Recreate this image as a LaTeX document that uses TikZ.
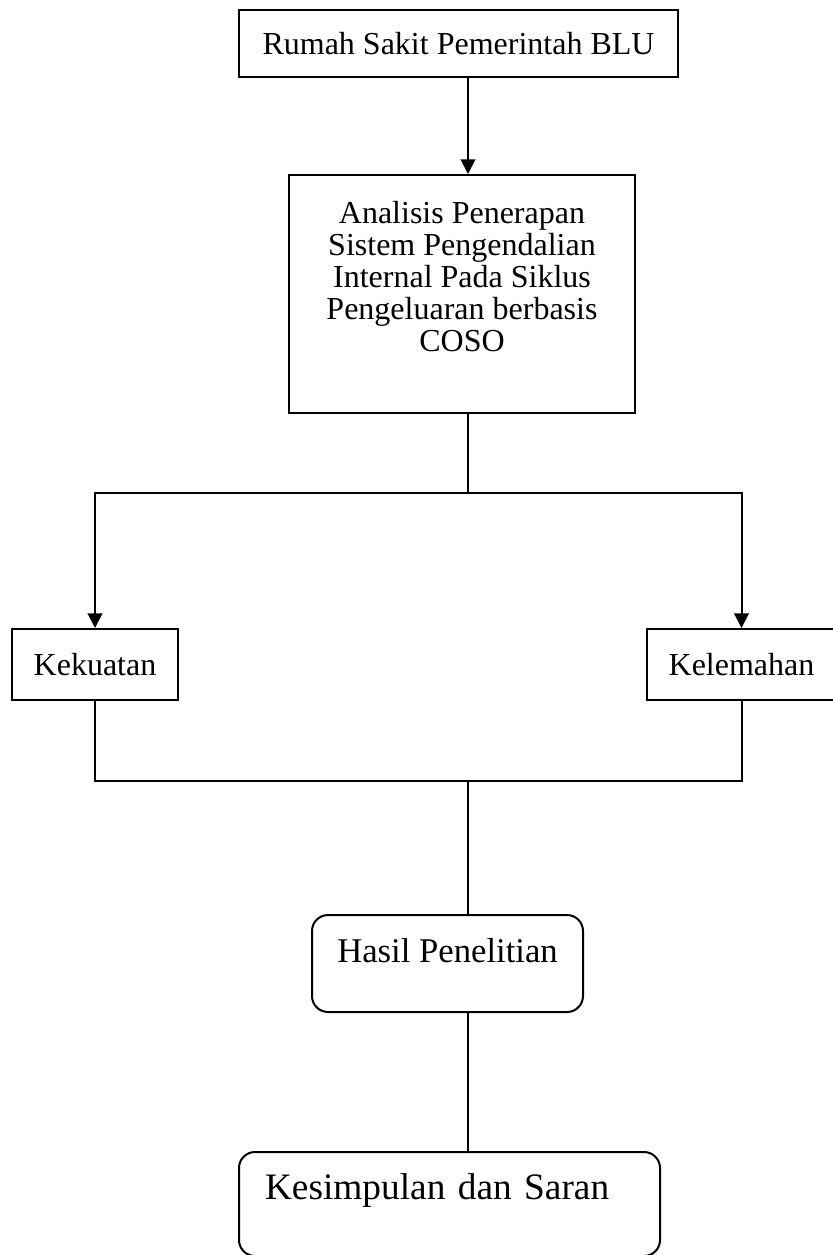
\documentclass[tikz,border=0pt]{standalone}
\usepackage{fontspec}
\setmainfont{Liberation Serif}
\usetikzlibrary{arrows.meta}

\begin{document}
\begin{tikzpicture}[x=0.375pt, y=-0.375pt, line width=0.75pt,
    box/.style={draw, rectangle, inner sep=0pt, font=\fontsize{12}{12}\selectfont},
    rbox/.style={box, rounded corners=6pt},
    arr/.style={-{Triangle[width=5.5pt,length=5.5pt]}}]
    \useasboundingbox (0,0) rectangle (833,1255);

    \node[box, minimum width=439*0.375pt, minimum height=67*0.375pt] (rs) at (458.5,43.5) {Rumah Sakit Pemerintah BLU};
    \node[box, align=center, text depth=13.5pt, minimum width=346*0.375pt, minimum height=238*0.375pt] (anl) at (462,294)
        {Analisis Penerapan\\Sistem Pengendalian\\Internal Pada Siklus\\Pengeluaran berbasis\\COSO};
    \node[box, minimum width=166*0.375pt, minimum height=71*0.375pt] (kuat) at (95,664.5) {Kekuatan};
    \node[box, minimum width=189*0.375pt, minimum height=71*0.375pt] (lemah) at (741.5,664.5) {Kelemahan};
    \node[rbox, font=\fontsize{13}{13}\selectfont, text depth=10pt, minimum width=271*0.375pt, minimum height=97*0.375pt] (hasil) at (447.5,963.5) {Hasil Penelitian};
    \node[rbox, font=\fontsize{14}{14}\selectfont, align=left, text width=369*0.375pt, inner xsep=9.75pt, text depth=13.3pt, minimum height=104*0.375pt] (simpul) at (449.5,1204) {Kesimpulan dan Saran};

    \coordinate (spine) at (468,0);
    \coordinate (split) at (468,493);
    \coordinate (join) at (468,781);

    \draw[arr] (rs.south -| spine) -- (anl.north -| spine);
    \draw (anl.south -| spine) -- (split);
    \draw[arr] (split) -| (kuat.north);
    \draw[arr] (split) -| (lemah.north);
    \draw (kuat.south) |- (join) -| (lemah.south);
    \draw (join) -- (hasil.north -| spine);
    \draw (hasil.south -| spine) -- (simpul.north -| spine);
\end{tikzpicture}
\end{document}
